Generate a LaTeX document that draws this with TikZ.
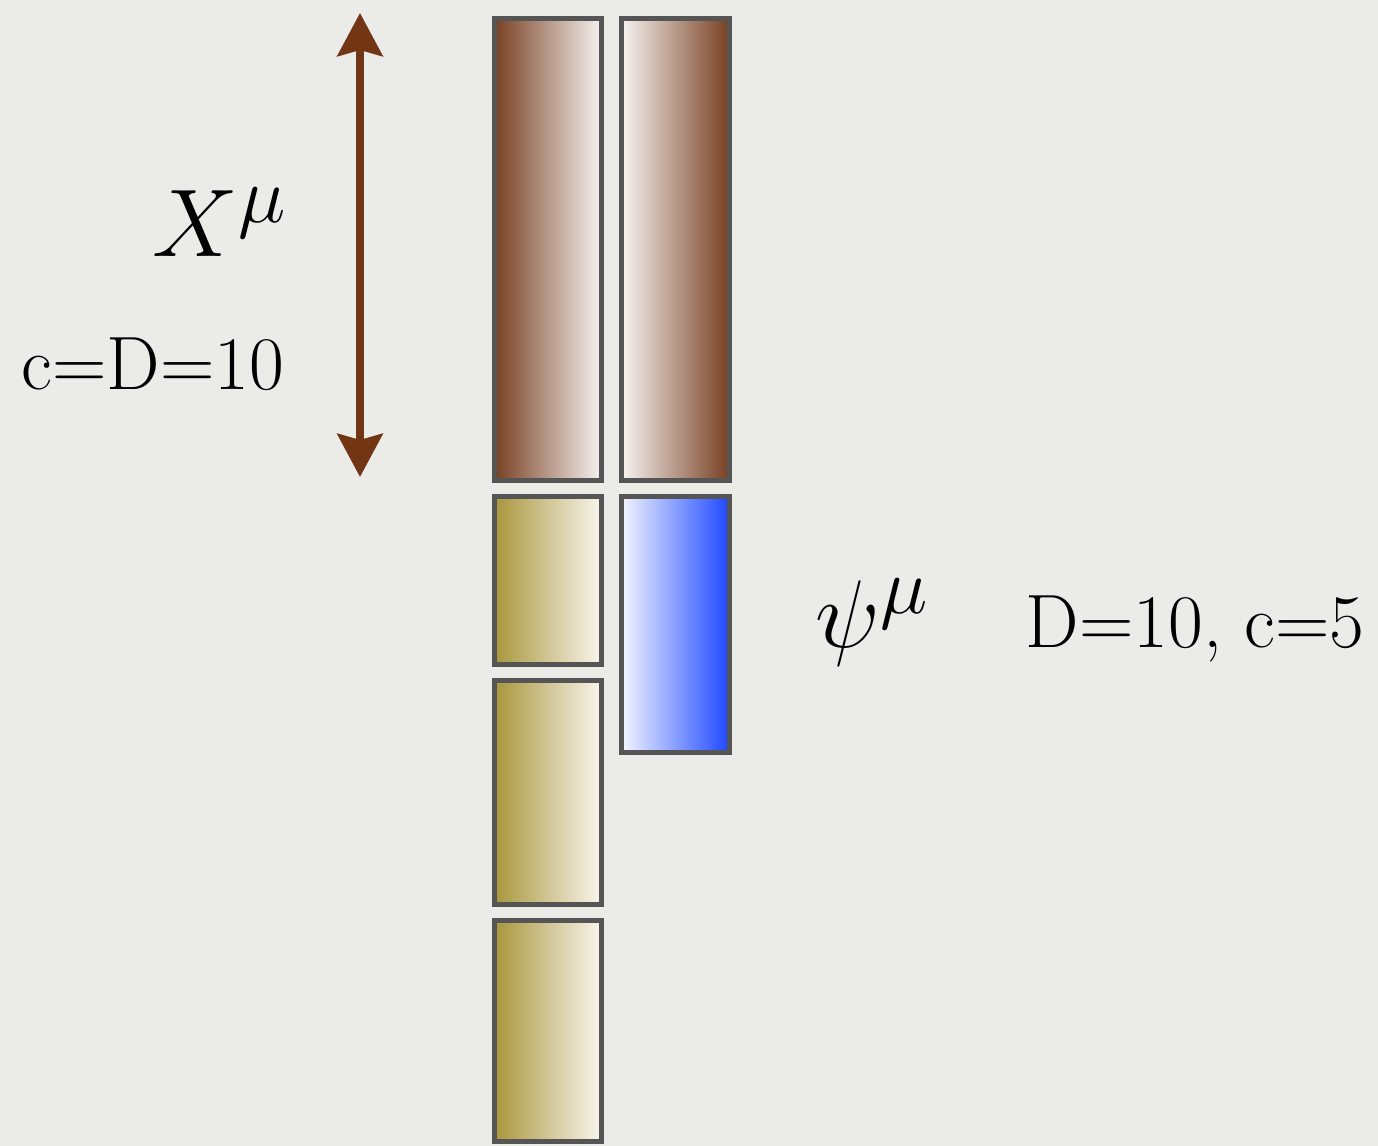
\documentclass[tikz,border=0pt]{standalone}
\usepackage{tikz}
\usetikzlibrary{arrows.meta, positioning}
\usepackage{xcolor}
\definecolor{bgpaper}{RGB}{235,235,231}
\definecolor{edgegray}{RGB}{85,85,85}
\definecolor{brownd}{RGB}{120,64,34}
\definecolor{brownl}{RGB}{246,242,240}
\definecolor{goldd}{RGB}{170,150,60}
\definecolor{goldl}{RGB}{248,246,238}
\definecolor{bluel}{RGB}{242,244,255}
\definecolor{blued}{RGB}{30,72,255}
\definecolor{arrbrown}{RGB}{114,54,20}
\tikzset{
  strip/.style    ={draw=edgegray, rectangle, line width=0.05cm, inner sep=0pt, minimum width=1.07cm},
  bosL/.style     ={strip, left color=brownd, right color=brownl},  % brown, dark left
  bosR/.style     ={strip, left color=brownl, right color=brownd},  % brown, dark right
  ghostbox/.style ={strip, left color=goldd,  right color=goldl},
  ferm/.style     ={strip, left color=bluel,  right color=blued},
  span/.style     ={{Stealth[length=0.43cm, width=0.45cm, inset=0.06cm]}-{Stealth[length=0.43cm, width=0.45cm, inset=0.06cm]}, line width=0.08cm, arrbrown},
  bigm/.style     ={font=\Huge, scale=1.1, transform shape, inner sep=0pt},
  note/.style     ={font=\fontsize{21.5}{26}\selectfont, inner sep=0pt},
}

\begin{document}
\begin{tikzpicture}[x=0.01cm, y=-0.01cm]
  % --- paper ---
  \fill[bgpaper] (0,0) rectangle (1378,1146);

  % --- X columns ---
  \node[bosL, minimum height=4.62cm] (xl) at (548,249.5) {};
  \node[bosR, minimum height=4.62cm] (xr) at (675.5,249.5) {};

  % --- ghosts ---
  \node[ghostbox, minimum height=1.68cm]  (g1) at (548,580.5) {};
  \node[ghostbox, minimum height=2.24cm]  (g2) at (548,792.5) {};
  \node[ghostbox, minimum height=2.205cm] (g3) at (548,1030.75) {};

  % --- psi ---
  \node[ferm, minimum height=2.56cm] (ps) at (675.5,624.5) {};

  % --- arrow and labels ---
  \coordinate (atop) at (360,13);
  \coordinate (abot) at (360,477);
  \draw[span] (abot) -- (atop);
  \node[bigm, anchor=base east] (xlab) at (288,257) {$X^{\mu}$};
  \node[note, anchor=base east] (xcnt) at (285,390) {c=D=10};
  \node[bigm, anchor=base west] (plab) at (815,648) {$\psi^{\mu}$};
  \node[note, anchor=base west] (pcnt) at (1025,648) {D=10, c=5};
\end{tikzpicture}
\end{document}
